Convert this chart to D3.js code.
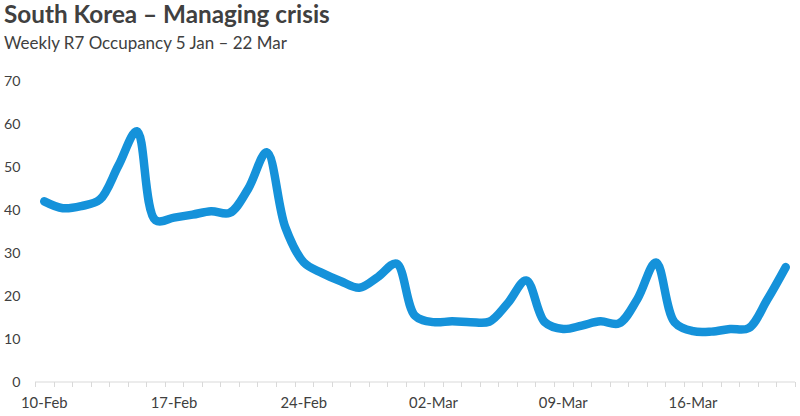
<!DOCTYPE html>
<html>
<head>
<meta charset="utf-8">
<script src="https://cdn.jsdelivr.net/npm/d3@7"></script>
<style>
  html, body { margin: 0; padding: 0; background: #ffffff; }
  svg { display: block; }
  text { font-family: Lato, "Open Sans", sans-serif; }
</style>
</head>
<body>
<svg id="chart" width="800" height="416"></svg>
<script>
// ---- Data ----
const titleText = "South Korea \u2013 Managing crisis";
const subtitleText = "Weekly R7 Occupancy 5 Jan \u2013 22 Mar";
const dates = ["10-Feb","11-Feb","12-Feb","13-Feb","14-Feb","15-Feb","16-Feb","17-Feb","18-Feb","19-Feb",
  "20-Feb","21-Feb","22-Feb","23-Feb","24-Feb","25-Feb","26-Feb","27-Feb","28-Feb","29-Feb",
  "01-Mar","02-Mar","03-Mar","04-Mar","05-Mar","06-Mar","07-Mar","08-Mar","09-Mar","10-Mar",
  "11-Mar","12-Mar","13-Mar","14-Mar","15-Mar","16-Mar","17-Mar","18-Mar","19-Mar","20-Mar","21-Mar"];
const occupancy = [41.9, 40.3, 40.8, 42.3, 50.2, 58.2, 37.5, 38.1, 38.8, 39.6,
  39.2, 44.8, 53.3, 35.9, 27.7, 25.2, 23.3, 21.8, 24.3, 27.4,
  15.3, 13.8, 14.0, 13.8, 13.9, 18.2, 23.5, 13.8, 12.2, 13.0,
  14.0, 13.5, 19.2, 27.7, 13.8, 11.7, 11.6, 12.2, 12.4, 19.0, 26.6];
const xTickLabels = ["10-Feb","17-Feb","24-Feb","02-Mar","09-Mar","16-Mar"];
const yTicks = [0, 10, 20, 30, 40, 50, 60, 70];

// ---- Layout ----
const svg = d3.select("#chart");
const plotLeft = 35, plotRight = 795, plotTop = 80.5, plotBottom = 381.5;

const x = d3.scaleBand().domain(dates).range([plotLeft, plotRight]).paddingInner(0).paddingOuter(0);
const y = d3.scaleLinear().domain([0, 70]).range([plotBottom, plotTop]);
const cx = d => x(d) + x.bandwidth() / 2;

function fitWidth(sel, target) {
  const node = sel.node();
  const fs = parseFloat(sel.attr("font-size"));
  const w = node.getComputedTextLength();
  const nfs = fs * target / w;
  sel.attr("font-size", nfs);
  return nfs;
}

// Title
const t = svg.append("text").attr("x", 4).attr("y", 23)
  .attr("font-size", 22).attr("font-weight", "bold").attr("fill", "#404040").text(titleText);
fitWidth(t, 326);
const st = svg.append("text").attr("x", 4).attr("y", 48.5)
  .attr("font-size", 16).attr("fill", "#404040").text(subtitleText);
fitWidth(st, 283);

// Y axis labels
const yAxis = d3.axisLeft(y).tickValues(yTicks).tickSize(0).tickPadding(0);
const yg = svg.append("g").attr("transform", "translate(20.5,0)").call(yAxis);
yg.select(".domain").remove();
yg.selectAll("text").attr("fill", "#404040").attr("font-size", 15)
  .style("font-family", 'Lato, "Open Sans", sans-serif');
const probeY = yg.selectAll("text").filter(d => d === 70);
const yfs = fitWidth(probeY, 16.5);
yg.selectAll("text").attr("font-size", yfs).attr("dy", "0.35em");

// X axis line with ticks at category boundaries
const xg = svg.append("g");
xg.append("line").attr("x1", plotLeft).attr("x2", plotRight).attr("y1", plotBottom + 0.5).attr("y2", plotBottom + 0.5)
  .attr("stroke", "#d9d9d9").attr("stroke-width", 1);
const boundaries = dates.map(d => x(d)).concat([plotRight]);
xg.selectAll("line.tick").data(boundaries).join("line").attr("class", "tick")
  .attr("x1", d => Math.round(d) + 0.5).attr("x2", d => Math.round(d) + 0.5)
  .attr("y1", plotBottom + 0.5).attr("y2", plotBottom + 5.5)
  .attr("stroke", "#d9d9d9").attr("stroke-width", 1);

const xl = xg.selectAll("text.xl").data(xTickLabels).join("text").attr("class", "xl")
  .attr("x", d => cx(d)).attr("y", 407.5).attr("text-anchor", "middle")
  .attr("fill", "#404040").attr("font-size", 15).text(d => d);
const xfs = fitWidth(xl.filter((d, i) => i === 0), 46.5);
xl.attr("font-size", xfs);

// Line
const line = d3.line().x((d, i) => cx(dates[i])).y(d => y(d)).curve(d3.curveCatmullRom.alpha(0.5));
svg.append("path").datum(occupancy).attr("d", line)
  .attr("fill", "none").attr("stroke", "#1592DA").attr("stroke-width", 8.5)
  .attr("stroke-linecap", "round").attr("stroke-linejoin", "round");
</script>
</body>
</html>
